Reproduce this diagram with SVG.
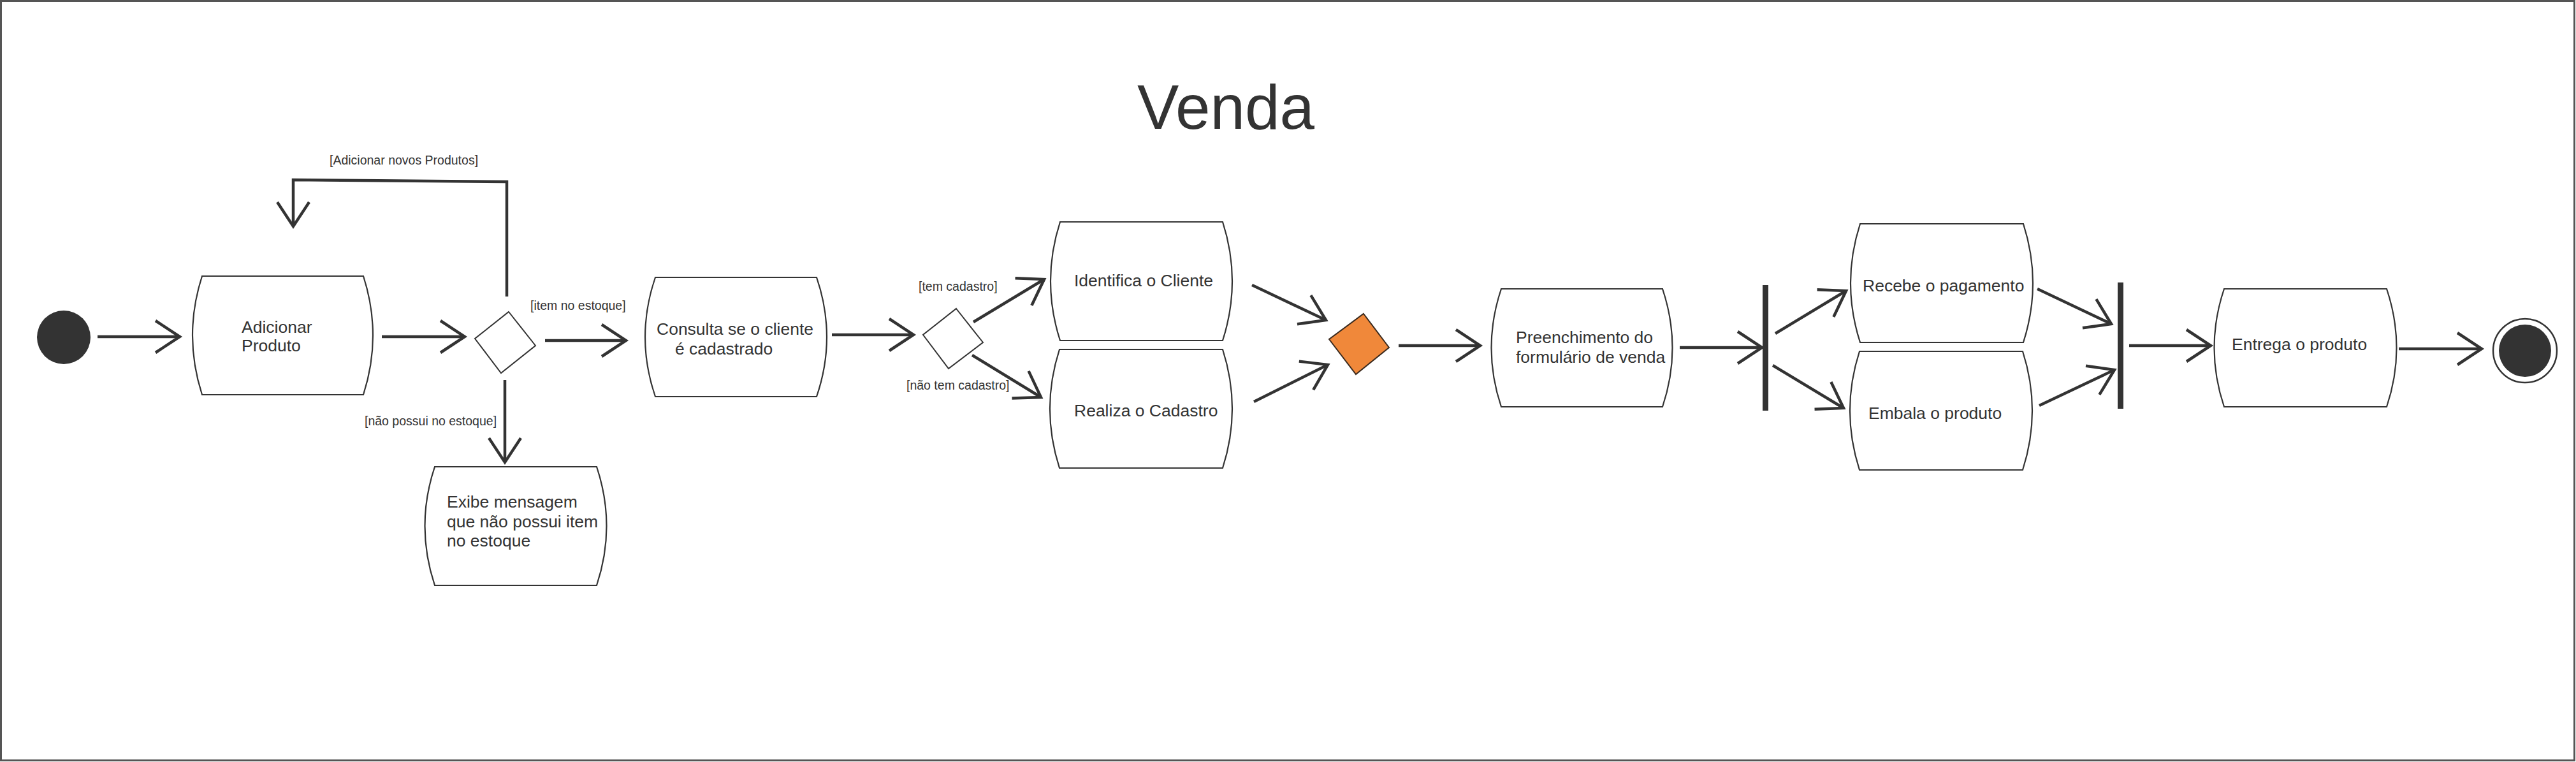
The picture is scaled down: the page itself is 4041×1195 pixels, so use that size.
<svg xmlns="http://www.w3.org/2000/svg" width="4041" height="1195" viewBox="0 0 4041 1195">
<style>
.frame{fill:#ffffff;stroke:#555555;stroke-width:3}
.act{fill:#ffffff;stroke:#333333;stroke-width:2.2}
.dec{fill:#ffffff;stroke:#333333;stroke-width:2}
.merge{fill:#F0883A;stroke:#3a2a1e;stroke-width:2}
.bar{fill:#333333}
.t{font-family:"Liberation Sans",Arial,sans-serif;font-size:26.5px;fill:#333333}
.lbl{font-family:"Liberation Sans",Arial,sans-serif;font-size:19.5px;fill:#333333}
.title{font-family:"Liberation Sans",Arial,sans-serif;font-size:98px;fill:#333333}
.c{fill:none;stroke:#333333;stroke-width:4.5;marker-end:url(#arr)}
</style>
<defs>
<marker id="arr" markerUnits="userSpaceOnUse" markerWidth="100" markerHeight="100" refX="0" refY="0" orient="auto" overflow="visible" viewBox="-50 -50 100 100">
<path d="M-38,-25 L0,0 L-38,25" fill="none" stroke="#333333" stroke-width="4.5" stroke-linejoin="miter"/>
</marker>
</defs>
<rect class="frame" x="1.5" y="1.5" width="4037" height="1191"/>
<text class="title" x="1784" y="202">Venda</text>

<g id="connectors">
<path class="c" d="M153,528 L282,528"/>
<path class="c" d="M599,528 L729,528"/>
<path class="c" d="M795,465 L795,285 L460,282 L460,355"/>
<path class="c" d="M855,534 L982,534"/>
<path class="c" d="M792,596 L792,725"/>
<path class="c" d="M1305,525 L1433,525"/>
<path class="c" d="M1527,505 L1638,438"/>
<path class="c" d="M1525,557 L1633,623"/>
<path class="c" d="M1964,447 L2080,502"/>
<path class="c" d="M1967,630 L2083,572"/>
<path class="c" d="M2194,542 L2322,542"/>
<path class="c" d="M2635,545 L2764,545"/>
<path class="c" d="M2785,523 L2896,456"/>
<path class="c" d="M2781,573 L2892,640"/>
<path class="c" d="M3196,453 L3312,508"/>
<path class="c" d="M3199,636 L3317,580"/>
<path class="c" d="M3340,542 L3468,542"/>
<path class="c" d="M3763,547 L3893,547"/>
<text class="lbl" x="517" y="258">[Adicionar novos Produtos]</text>
<text class="lbl" x="832" y="486">[item no estoque]</text>
<text class="lbl" x="572" y="667">[não possui no estoque]</text>
<text class="lbl" x="1441" y="456">[tem cadastro]</text>
<text class="lbl" x="1422" y="611">[não tem cadastro]</text>
</g>

<g id="start"><circle cx="100" cy="529" r="42" fill="#333333"/></g>

<g id="adicionar">
<path class="act" d="M317,433 L570,433 Q600,526 570,619 L317,619 Q287,526 317,433 Z"/>
<text class="t" x="379" y="521.5">Adicionar</text>
<text class="t" x="379" y="551">Produto</text>
</g>

<g id="decisao1"><polygon class="dec" points="798,489 840,542 786,585 745,531"/></g>

<g id="exibe">
<path class="act" d="M682,732 L936,732 Q967,825 936,918 L682,918 Q651,825 682,732 Z"/>
<text class="t" x="701" y="796">Exibe mensagem</text>
<text class="t" x="701" y="826.5">que não possui item</text>
<text class="t" x="701" y="857">no estoque</text>
</g>

<g id="consulta">
<path class="act" d="M1028,435 L1281,435 Q1313,528.5 1281,622 L1028,622 Q996,528.5 1028,435 Z"/>
<text class="t" x="1030" y="525">Consulta se o cliente</text>
<text class="t" x="1059" y="556">é cadastrado</text>
</g>

<g id="decisao2"><polygon class="dec" points="1500,484 1542,537 1488,578 1448,525"/></g>

<g id="identifica">
<path class="act" d="M1663,348 L1918,348 Q1948,441 1918,534 L1663,534 Q1633,441 1663,348 Z"/>
<text class="t" x="1685" y="449">Identifica o Cliente</text>
</g>

<g id="realiza">
<path class="act" d="M1662,548 L1918,548 Q1948,641 1918,734 L1662,734 Q1632,641 1662,548 Z"/>
<text class="t" x="1685" y="653">Realiza o Cadastro</text>
</g>

<g id="merge"><polygon class="merge" points="2139,492 2179,545 2127,587 2085,532"/></g>

<g id="preenchimento">
<path class="act" d="M2355,453 L2608,453 Q2639,545.5 2608,638 L2355,638 Q2324,545.5 2355,453 Z"/>
<text class="t" x="2378" y="538">Preenchimento do</text>
<text class="t" x="2378" y="569">formulário de venda</text>
</g>

<g id="fork"><rect class="bar" x="2765" y="447" width="9" height="197"/></g>

<g id="recebe">
<path class="act" d="M2918,351 L3174,351 Q3204,444 3174,537 L2918,537 Q2888,444 2918,351 Z"/>
<text class="t" x="2922" y="457">Recebe o pagamento</text>
</g>

<g id="embala">
<path class="act" d="M2917,551 L3173,551 Q3203,644 3173,737 L2917,737 Q2887,644 2917,551 Z"/>
<text class="t" x="2931" y="657">Embala o produto</text>
</g>

<g id="join"><rect class="bar" x="3322" y="443" width="9" height="198"/></g>

<g id="entrega">
<path class="act" d="M3489,453 L3744,453 Q3775,545.5 3744,638 L3489,638 Q3458,545.5 3489,453 Z"/>
<text class="t" x="3501" y="549">Entrega o produto</text>
</g>

<g id="end">
<circle cx="3961" cy="550" r="50" fill="#ffffff" stroke="#333333" stroke-width="2.5"/>
<circle cx="3961" cy="550" r="41" fill="#333333"/>
</g>
</svg>
